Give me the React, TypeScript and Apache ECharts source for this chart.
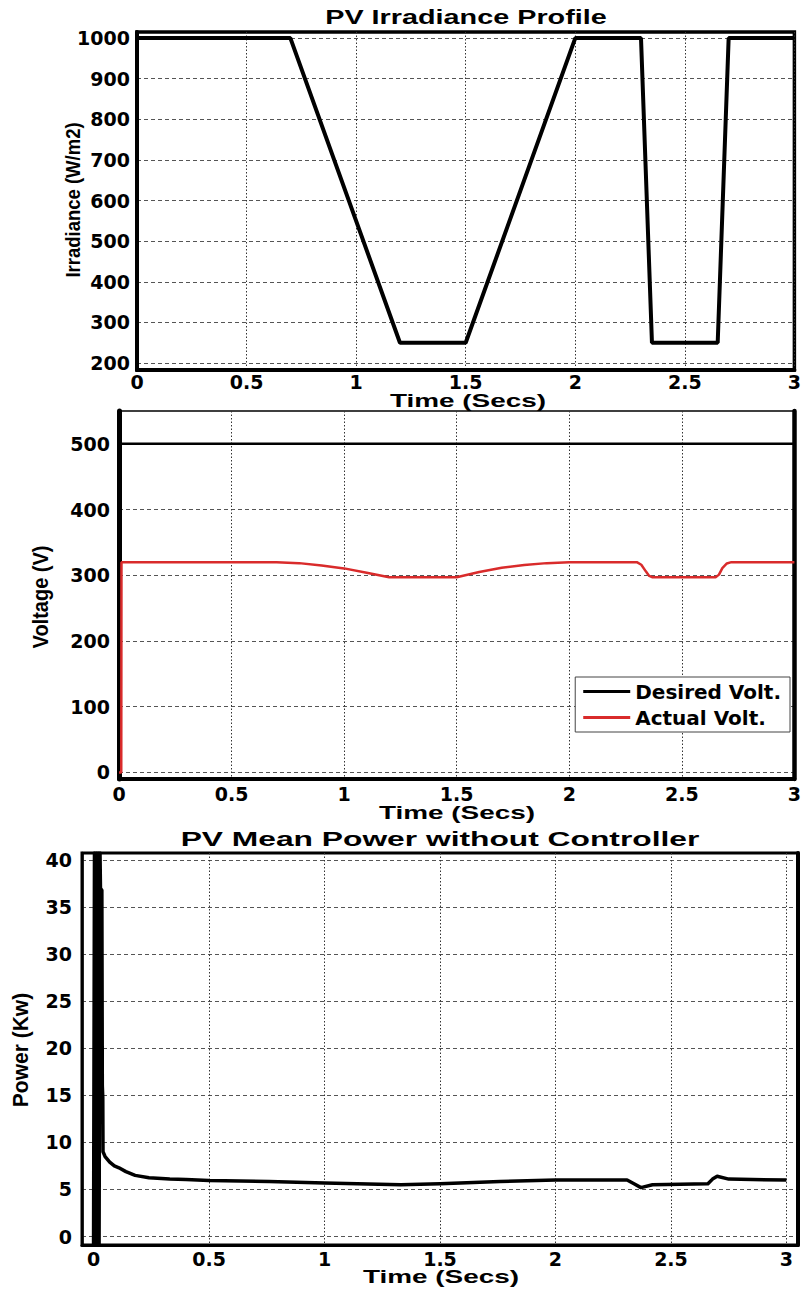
import React, { useEffect, useRef } from "react";
import * as echarts from "echarts";

// Axis tick values
const timeTicks = [0, 0.5, 1, 1.5, 2, 2.5, 3];
const irradianceTicks = [200, 300, 400, 500, 600, 700, 800, 900, 1000];
const voltageTicks = [0, 100, 200, 300, 400, 500];
const powerTicks = [0, 5, 10, 15, 20, 25, 30, 35, 40];

// PV irradiance profile (W/m2)
const irradianceTime = [0, 0.7, 1.2, 1.5, 2.0, 2.3, 2.35, 2.65, 2.7, 3.0];
const irradianceValue = [1000, 1000, 250, 250, 1000, 1000, 250, 250, 1000, 1000];

// DC link voltage (V)
const desiredTime = [0, 3];
const desiredVolt = [500, 500];
const actualTime = [
  0, 0.01, 0.011, 0.7, 0.8, 0.9, 1.0, 1.1, 1.2, 1.5, 1.6, 1.7, 1.8, 1.9, 2.0,
  2.3, 2.32, 2.34, 2.355, 2.37, 2.65, 2.665, 2.68, 2.7, 2.72, 3.0,
];
const actualVolt = [
  0, 0, 320, 320, 318.5, 315, 310.5, 304, 297, 297, 305, 311.5, 315.5, 318.5, 320,
  320, 316, 306, 299, 297, 297, 301, 311, 318, 320, 320,
];

// PV mean power without controller (kW)
const powerTime = [
  0, 0.004, 0.008, 0.012, 0.016, 0.02, 0.024, 0.028, 0.03, 0.036, 0.038, 0.04,
  0.041, 0.05, 0.07, 0.09, 0.11, 0.14, 0.18, 0.24, 0.33, 0.4, 0.5, 0.76, 1.0,
  1.33, 1.5, 1.76, 2.0, 2.31, 2.34, 2.37, 2.42, 2.66, 2.68, 2.7, 2.75, 3.0,
];
const powerValue = [
  -0.9, 40.75, -0.9, 40.75, -0.9, 40.75, -0.9, 40.75, 37, 36.8, 16, 14.8,
  9.0, 8.5, 7.9, 7.5, 7.3, 6.9, 6.5, 6.25, 6.1, 6.05, 5.95, 5.85, 5.7,
  5.5, 5.6, 5.85, 6.0, 6.0, 5.6, 5.2, 5.5, 5.6, 6.1, 6.4, 6.1, 6.0,
];

const zip = (xs: number[], ys: number[]) => xs.map((x, i) => [x, ys[i]]);

const TICK_FONT = "'DejaVu Sans', 'Liberation Sans', sans-serif";
const LABEL_FONT = "'Liberation Sans', Arial, sans-serif";

const hGrid = { show: true, lineStyle: { color: "#555", width: 1, type: [4, 3] } };
const vGrid = { show: true, lineStyle: { color: "#333", width: 1, type: [1.5, 2] } };

const tickLabel = (values: number[], margin: number) => ({
  customValues: values,
  margin,
  color: "#000",
  fontFamily: TICK_FONT,
  fontWeight: "bold",
  fontSize: 19,
  formatter: (v: number) => String(v),
});

const axisLine = (width: number) => ({
  show: true,
  onZero: false,
  lineStyle: { color: "#000", width },
});

const caption = (
  text: string,
  x: number,
  y: number,
  fontSize: number,
  opts: { scaleX?: number; scaleY?: number; rotate?: boolean } = {}
) => ({
  type: "text",
  x,
  y,
  rotation: opts.rotate ? Math.PI / 2 : 0,
  scaleX: opts.scaleX ?? 1,
  scaleY: opts.scaleY ?? 1,
  style: {
    text,
    fill: "#000",
    fontFamily: LABEL_FONT,
    fontWeight: "bold",
    fontSize,
    align: "center",
    verticalAlign: "middle",
    textAlign: "center",
    textVerticalAlign: "middle",
  },
});

export default function App() {
  const ref = useRef<HTMLDivElement>(null);

  useEffect(() => {
    if (!ref.current) return;
    const chart = echarts.init(ref.current, null, { renderer: "svg" });

    chart.setOption({
      animation: false,
      backgroundColor: "#fff",
      grid: [
        { left: 137, right: 7, top: 32, height: 338, show: true, borderColor: "#000", borderWidth: 3.5 },
        { left: 119, right: 9, top: 411, height: 368, show: true, borderColor: "#000", borderWidth: 1.5 },
        { left: 82, right: 6, top: 853, height: 392, show: true, borderColor: "#000", borderWidth: 3 },
      ],
      xAxis: [
        {
          gridIndex: 0, type: "value", min: 0, max: 3,
          axisLine: axisLine(4),
          axisTick: { show: false, customValues: timeTicks },
          axisLabel: tickLabel(timeTicks, 2),
          splitLine: vGrid,
        },
        {
          gridIndex: 1, type: "value", min: 0, max: 3,
          axisLine: axisLine(4),
          axisTick: { show: false, customValues: timeTicks },
          axisLabel: tickLabel(timeTicks, 5),
          splitLine: vGrid,
        },
        {
          gridIndex: 2, type: "value", min: -0.05, max: 3.05,
          axisLine: axisLine(3),
          axisTick: { show: false, customValues: timeTicks },
          axisLabel: tickLabel(timeTicks, 4),
          splitLine: vGrid,
        },
      ],
      yAxis: [
        {
          gridIndex: 0, type: "value", min: 183, max: 1015,
          axisLine: axisLine(4),
          axisTick: { show: false, customValues: irradianceTicks },
          axisLabel: tickLabel(irradianceTicks, 7),
          splitLine: hGrid,
        },
        {
          gridIndex: 1, type: "value", min: -10, max: 550,
          axisLine: axisLine(5),
          axisTick: { show: false, customValues: voltageTicks },
          axisLabel: tickLabel(voltageTicks, 9),
          splitLine: hGrid,
        },
        {
          gridIndex: 1, type: "value", position: "right", min: -10, max: 550,
          axisLine: axisLine(4.5),
          axisTick: { show: false },
          axisLabel: { show: false },
          splitLine: { show: false },
        },
        {
          gridIndex: 2, type: "value", min: -0.9, max: 40.75,
          axisLine: axisLine(2.5),
          axisTick: { show: false, customValues: powerTicks },
          axisLabel: tickLabel(powerTicks, 10),
          splitLine: hGrid,
        },
        {
          gridIndex: 2, type: "value", position: "right", min: -0.9, max: 40.75,
          axisLine: axisLine(4),
          axisTick: { show: false },
          axisLabel: { show: false },
          splitLine: { show: false },
        },
      ],
      legend: {
        data: [
          { name: "Desired Volt.", icon: "rect" },
          { name: "Actual Volt.", icon: "rect" },
        ],
        orient: "vertical",
        right: 14,
        top: 677,
        itemWidth: 47,
        itemHeight: 3,
        itemGap: 5,
        padding: [4, 9, 4, 8],
        borderColor: "#444",
        borderWidth: 1,
        backgroundColor: "#fff",
        selectedMode: false,
        textStyle: {
          fontFamily: TICK_FONT,
          fontWeight: "bold",
          fontSize: 20,
          lineHeight: 21,
          color: "#000",
        },
      },
      series: [
        {
          name: "Irradiance",
          type: "line",
          xAxisIndex: 0,
          yAxisIndex: 0,
          data: zip(irradianceTime, irradianceValue),
          symbol: "none",
          lineStyle: { color: "#000", width: 4 },
          itemStyle: { color: "#000" },
        },
        {
          name: "Desired Volt.",
          type: "line",
          xAxisIndex: 1,
          yAxisIndex: 1,
          data: zip(desiredTime, desiredVolt),
          symbol: "none",
          lineStyle: { color: "#000", width: 2.5 },
          itemStyle: { color: "#000" },
        },
        {
          name: "Actual Volt.",
          type: "line",
          xAxisIndex: 1,
          yAxisIndex: 1,
          data: zip(actualTime, actualVolt),
          symbol: "none",
          lineStyle: { color: "#d92b2b", width: 2.5 },
          itemStyle: { color: "#d92b2b" },
        },
        {
          name: "Power",
          type: "line",
          xAxisIndex: 2,
          yAxisIndex: 3,
          data: zip(powerTime, powerValue),
          symbol: "none",
          lineStyle: { color: "#000", width: 3.5, join: "round" },
          itemStyle: { color: "#000" },
        },
      ],
      graphic: [
        caption("PV Irradiance Profile", 466, 17.5, 20, { scaleX: 1.44 }),
        caption("Time (Secs)", 468, 400, 19, { scaleX: 1.47 }),
        caption("Irradiance (W/m2)", 73, 200, 18.5, { rotate: true, scaleY: 1.1 }),
        caption("Time (Secs)", 457, 812, 19, { scaleX: 1.47 }),
        caption("Voltage (V)", 40, 597, 20, { rotate: true, scaleY: 1.1 }),
        caption("PV Mean Power without Controller", 440, 839, 20.5, { scaleX: 1.55 }),
        caption("Time (Secs)", 441, 1276, 19, { scaleX: 1.47 }),
        caption("Power (Kw)", 21, 1050, 21, { rotate: true, scaleY: 1.05 }),
      ],
    });

    return () => chart.dispose();
  }, []);

  return (
    <div
      ref={ref}
      style={{ position: "absolute", left: 0, top: 0, width: 804, height: 1289, background: "#fff" }}
    />
  );
}
